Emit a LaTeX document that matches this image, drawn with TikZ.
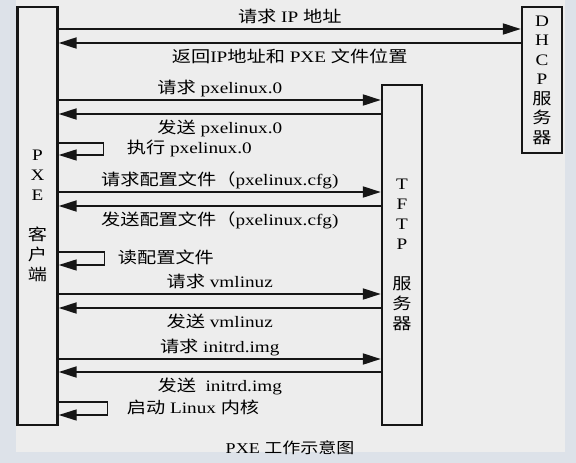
\documentclass[tikz,border=0pt]{standalone}
\usepackage{fontspec}
\setmainfont{Liberation Serif}[FakeStretch=1.2]
\newfontfamily\cjk{Noto Sans CJK SC}[FakeStretch=1.2]
\newcommand{\zh}[1]{{\cjk #1}}
\usetikzlibrary{arrows.meta,positioning}
\definecolor{outerbg}{HTML}{DDE2E9}
\definecolor{panelbg}{HTML}{EDEDED}
\definecolor{ink}{HTML}{161616}

\begin{document}
\begin{tikzpicture}[x=1pt,y=-1pt,font=\fontsize{16pt}{20pt}\selectfont]
                \tikzstyle{srvbox}=[draw=ink,line width=2.4pt,fill=panelbg,minimum width=40pt,align=center,inner sep=0pt]
                \tikzstyle{msg}=[draw=ink,line width=2pt,-{Triangle[length=18pt,width=11pt]}]
                \tikzstyle{selfloop}=[draw=ink,line width=1.4pt,-{Triangle[length=18pt,width=11pt]}]
                \tikzstyle{lbl}=[inner sep=1pt,text height=12pt,text depth=3pt]
                
                \useasboundingbox (0,0) rectangle (576,463);
                \fill[outerbg] (0,0) rectangle (576,463);
                \fill[panelbg] (16,0) rectangle (565,452);
                
                \node[srvbox,minimum height=418pt] (pxe) at (37.5,216) {P\\X\\E\\[20pt]\zh{客}\\\zh{户}\\\zh{端}};
                \node[srvbox,minimum height=340pt] (tftp) at (402,255) {T\\F\\T\\P\\[20pt]\zh{服}\\\zh{务}\\\zh{器}};
                \node[srvbox,minimum height=146pt,font=\fontsize{16pt}{19.5pt}\selectfont] (dhcp) at (542,80) {D\\H\\C\\P\\\zh{服}\\\zh{务}\\\zh{器}};
                
                \coordinate (r1) at (0,29);
                \coordinate (r2) at (0,43);
                \coordinate (r3) at (0,100);
                \coordinate (r4) at (0,114);
                \coordinate (r5) at (0,192);
                \coordinate (r6) at (0,206);
                \coordinate (r7) at (0,294);
                \coordinate (r8) at (0,308);
                \coordinate (r9) at (0,359);
                \coordinate (r10) at (0,372);
                
                \draw[msg] (pxe.east |- r1) -- node[lbl,above=1.5pt] {\zh{请求} IP \zh{地址}} (dhcp.west |- r1);
                \draw[msg] (dhcp.west |- r2) -- node[lbl,below=5pt] {\zh{返回}IP\zh{地址和} PXE \zh{文件位置}} (pxe.east |- r2);
                \draw[msg] (pxe.east |- r3) -- node[lbl,above=1.5pt] {\zh{请求} pxelinux.0} (tftp.west |- r3);
                \draw[msg] (tftp.west |- r4) -- node[lbl,below=5pt] {\zh{发送} pxelinux.0} (pxe.east |- r4);
                \draw[msg] (pxe.east |- r5) -- node[lbl,above=1.5pt] {\zh{请求配置文件（}pxelinux.cfg)} (tftp.west |- r5);
                \draw[msg] (tftp.west |- r6) -- node[lbl,below=5pt] {\zh{发送配置文件（}pxelinux.cfg)} (pxe.east |- r6);
                \draw[msg] (pxe.east |- r7) -- node[lbl,above=1.5pt] {\zh{请求} vmlinuz} (tftp.west |- r7);
                \draw[msg] (tftp.west |- r8) -- node[lbl,below=5pt] {\zh{发送} vmlinuz} (pxe.east |- r8);
                \draw[msg] (pxe.east |- r9) -- node[lbl,above=1.5pt] {\zh{请求} initrd.img} (tftp.west |- r9);
                \draw[msg] (tftp.west |- r10) -- node[lbl,below=5pt] {\zh{发送}\ \ initrd.img} (pxe.east |- r10);
                
                % client-side steps
                \draw[selfloop] (pxe.east |- 0,143) -- ++(44.5,0) |- node[lbl,pos=0.25,right=22pt] {\zh{执行} pxelinux.0} (pxe.east |- 0,155);
                \draw[selfloop] (pxe.east |- 0,252) -- ++(45.5,0) |- node[lbl,pos=0.25,right=12pt] {\zh{读配置文件}} (pxe.east |- 0,265);
                \draw[selfloop] (pxe.east |- 0,402) -- ++(48.5,0) |- node[lbl,pos=0.25,right=18pt] {\zh{启动} Linux \zh{内核}} (pxe.east |- 0,415);
                
                \node[font=\fontsize{15pt}{16pt}\selectfont] (caption) at (290,448) {PXE \zh{工作示意图}};
                
                \end{tikzpicture}
\end{document}
